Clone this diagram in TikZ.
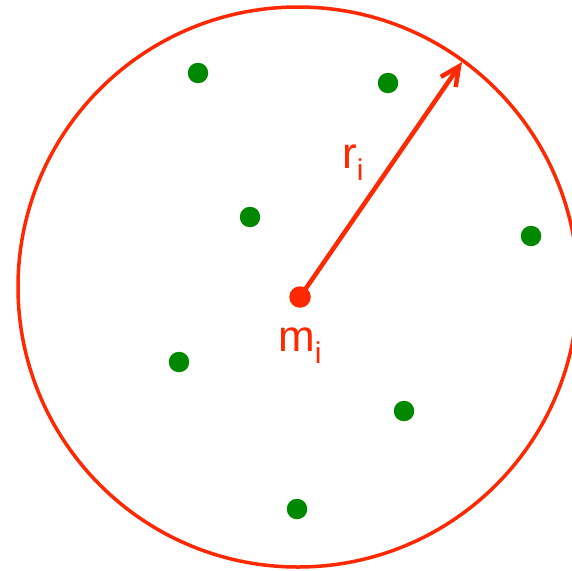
\documentclass[tikz,border=0pt]{standalone}
\usepackage{fontspec}
\setmainfont{Liberation Sans}
\usetikzlibrary{arrows.meta}
\definecolor{vred}{RGB}{255,40,0}
\definecolor{vgreen}{RGB}{0,136,0}
\begin{document}
\begin{tikzpicture}[x=1pt,y=-1pt,
  gdot/.style={circle,fill=vgreen,inner sep=0pt,minimum size=20.5pt},
  rdot/.style={circle,fill=vred,inner sep=0pt,minimum size=21.5pt},
  lbl/.style={text=vred,inner sep=0pt,anchor=base west,font=\fontsize{44}{50}\selectfont}]
\useasboundingbox (0,0) rectangle (572,570);
\begin{scope}
\clip (0,0) rectangle (572,570);
\draw[vred,line width=3.5pt] (298,287) circle[radius=280];
\end{scope}
\node[gdot] (g1) at (198,73) {};
\node[gdot] (g2) at (388,83) {};
\node[gdot] (g3) at (250,217) {};
\node[gdot] (g4) at (531,236) {};
\node[gdot] (g5) at (179,362) {};
\node[gdot] (g6) at (404,411) {};
\node[gdot] (g7) at (297,509) {};
\node[rdot] (m) at (300,297) {};
\coordinate (tip) at (462,62);
\draw[vred,line width=4.5pt,-{Straight Barb[length=19pt,width=18pt]}] (m.center) -- (tip);
\node[lbl] (rl) at (342,168) {r\raisebox{-12pt}{\fontsize{30}{30}\selectfont i}};
\node[lbl] (ml) at (278,351) {m\raisebox{-12pt}{\fontsize{30}{30}\selectfont i}};
\end{tikzpicture}
\end{document}
